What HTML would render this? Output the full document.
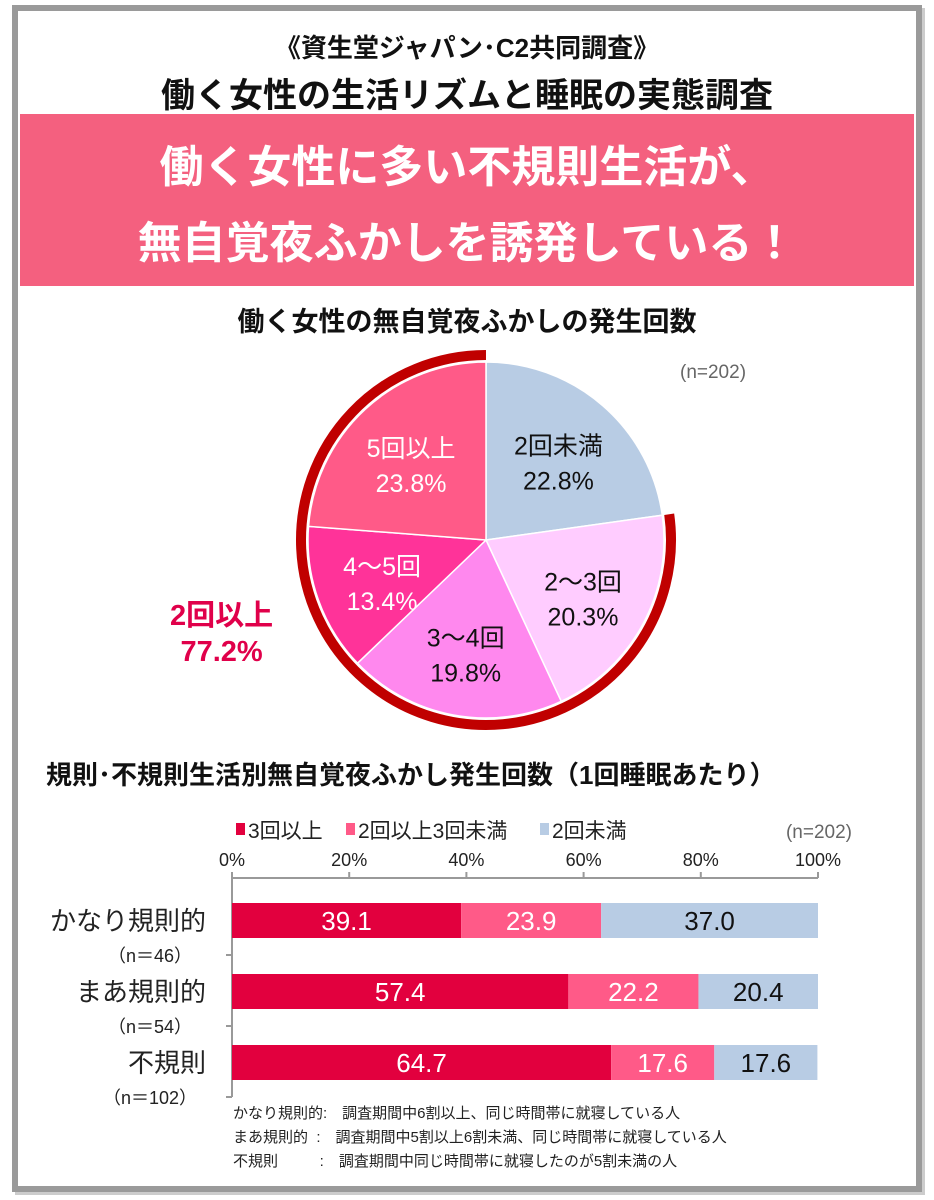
<!DOCTYPE html>
<html><head><meta charset="utf-8"><style>
body{margin:0;width:934px;height:1200px;background:#fff;font-family:"Liberation Sans","Noto Sans CJK JP",sans-serif;position:relative;overflow:hidden}
.a{position:absolute;white-space:nowrap}
</style></head><body>
<div class="a" style="left:12px;top:5px;width:898px;height:1175px;border:6px solid #9a9a9a;box-shadow:3px 3px 0 #ccc"></div>
<div class="a" style="left:0;width:934px;text-align:center;top:28px;font-size:26px;font-weight:bold;color:#111">《資生堂ジャパン･C2共同調査》</div>
<div class="a" style="left:0;width:934px;text-align:center;top:68px;font-size:34px;font-weight:bold;color:#111">働く女性の生活リズムと睡眠の実態調査</div>
<div class="a" style="left:20px;top:114px;width:894px;height:172px;background:#f4607f;color:#fff;font-weight:bold;font-size:44px;text-align:center;line-height:76px;padding-top:16px;box-sizing:border-box">働く女性に多い不規則生活が、<br>無自覚夜ふかしを誘発している！</div>
<div class="a" style="left:0;width:934px;text-align:center;top:300px;font-size:27px;font-weight:bold;color:#111">働く女性の無自覚夜ふかしの発生回数</div>
<div class="a" style="left:680px;top:362px;font-size:19px;color:#666">(n=202)</div>
<div class="a" style="left:170px;top:598px;font-size:29px;font-weight:bold;color:#e0004a;line-height:36px;text-align:center">2回以上<br>77.2%</div>
<svg class="a" id="pie" style="left:0;top:0" width="934" height="760"></svg>
<div class="a" style="left:46px;top:755px;font-size:26px;font-weight:bold;color:#111">規則･不規則生活別無自覚夜ふかし発生回数（1回睡眠あたり）</div>
<svg class="a" id="bar" style="left:0;top:800px" width="934" height="320"></svg>
<div class="a" style="left:233px;top:1102px;font-size:15px;color:#222;line-height:24px">
<div>かなり規則的:　調査期間中6割以上、同じ時間帯に就寝している人</div>
<div>まあ規則的 &nbsp;:　調査期間中5割以上6割未満、同じ時間帯に就寝している人</div>
<div>不規則 &nbsp;&nbsp;&nbsp;&nbsp;&nbsp;&nbsp;&nbsp;&nbsp;&nbsp;:　調査期間中同じ時間帯に就寝したのが5割未満の人</div></div>
<script>
const pieLabels=["2回未満","2～3回","3～4回","4～5回","5回以上"];
const pieValues=[22.8,20.3,19.8,13.4,23.8];
const pieColors=["#b8cce4","#ffccff","#ff88ee","#ff3399","#ff5a88"];
const pieText=["#111","#111","#111","#fff","#fff"];
const NS="http://www.w3.org/2000/svg";
function mk(p,t,a){const e=document.createElementNS(NS,t);for(const k in a)e.setAttribute(k,a[k]);p.appendChild(e);return e;}
const pie=document.getElementById('pie');
const cx=486,cy=540,R=178;
function pt(a,r){return [cx+r*Math.sin(a),cy-r*Math.cos(a)];}
const tot=pieValues.reduce((a,b)=>a+b,0);
let ang=0;
pieValues.forEach((v,i)=>{
 const a0=ang,a1=ang+v/tot*2*Math.PI;ang=a1;
 const p0=pt(a0,R),p1=pt(a1,R);
 const s=mk(pie,'path',{d:`M${cx},${cy}L${p0[0]},${p0[1]}A${R},${R} 0 ${a1-a0>Math.PI?1:0} 1 ${p1[0]},${p1[1]}Z`,fill:pieColors[i],stroke:'#fff','stroke-width':1.5});
 
 
 const m=(a0+a1)/2,lp=pt(m,R*0.62);
 const t=mk(pie,'text',{x:lp[0],y:lp[1]-2,'text-anchor':'middle','font-size':25,fill:pieText[i]});
 t.textContent=pieLabels[i];
 
 
 const t2=mk(pie,'text',{x:lp[0],y:lp[1]+33,'text-anchor':'middle','font-size':25,fill:pieText[i]});
 t2.textContent=v.toFixed(1)+'%';
 
 
});
const ra=R+7,aS=pieValues[0]/tot*2*Math.PI;
const q0=pt(aS,ra),q1=pt(2*Math.PI-0.0001,ra);
const arc=mk(pie,'path',{d:`M${q0[0]},${q0[1]}A${ra},${ra} 0 1 1 ${q1[0]},${q1[1]}`,fill:'none',stroke:'#c00000','stroke-width':10});



const cats=["かなり規則的","まあ規則的","不規則"];
const catN=["（n＝46）","（n＝54）","（n＝102）"];
const s3plus=[39.1,57.4,64.7];
const s2to3=[23.9,22.2,17.6];
const sUnder2=[37.0,20.4,17.6];
const seriesNames=["3回以上","2回以上3回未満","2回未満"];
const ticks=[0,20,40,60,80,100];
const bar=document.getElementById('bar');
const x0=232,x1=818;
const X=v=>x0+(x1-x0)*v/100;
const bandTop=78,band=71;
const colors=["#e2003e","#ff5a88","#b8cce4"],tcol=["#fff","#fff","#111"];
let lx=236;
seriesNames.forEach((n,i)=>{
 const r=mk(bar,'rect',{x:lx,y:23,width:9,height:12,fill:colors[i]});
 
 
 const t=mk(bar,'text',{x:lx+12,y:38,'font-size':21,fill:'#222'});t.textContent=n;
 
 
 lx+=12+n.length*21+14;
});
const tn=mk(bar,'text',{x:852,y:38,'text-anchor':'end','font-size':19,fill:'#666'});tn.textContent='(n=202)';


const ax=mk(bar,'line',{x1:x0,y1:bandTop,x2:x1,y2:bandTop,stroke:'#999','stroke-width':2});


const yl=mk(bar,'line',{x1:x0,y1:bandTop,x2:x0,y2:bandTop+3*band+6,stroke:'#999','stroke-width':2});


ticks.forEach(v=>{
 const l=mk(bar,'line',{x1:X(v),y1:bandTop-6,x2:X(v),y2:bandTop,stroke:'#999','stroke-width':2});
 
 
 const t=mk(bar,'text',{x:X(v),y:bandTop-12,'text-anchor':'middle','font-size':18,fill:'#222'});t.textContent=v+'%';
 
 
});
for(let k=1;k<=3;k++){const l=mk(bar,'line',{x1:x0-6,y1:bandTop+k*band+6,x2:x0,y2:bandTop+k*band+6,stroke:'#999','stroke-width':2});
 
 }
cats.forEach((c,j)=>{
 const yc=bandTop+j*band+42;
 const vals=[s3plus[j],s2to3[j],sUnder2[j]];
 let acc=0;
 vals.forEach((v,i)=>{
  const r=mk(bar,'rect',{x:X(acc),y:yc-17,width:X(acc+v)-X(acc),height:35,fill:colors[i]});
  
  
  const t=mk(bar,'text',{x:(X(acc)+X(acc+v))/2,y:yc+10,'text-anchor':'middle','font-size':26,fill:tcol[i]});
  t.textContent=v.toFixed(1);
  
  
  acc+=v;
 });
 const t=mk(bar,'text',{x:206,y:yc+10,'text-anchor':'end','font-size':26,fill:'#222'});t.textContent=c;
 
 
 const t2=mk(bar,'text',{x:150,y:yc+42,'text-anchor':'middle','font-size':18,fill:'#222'});t2.textContent=catN[j];
 
 
});
</script>
</body></html>
